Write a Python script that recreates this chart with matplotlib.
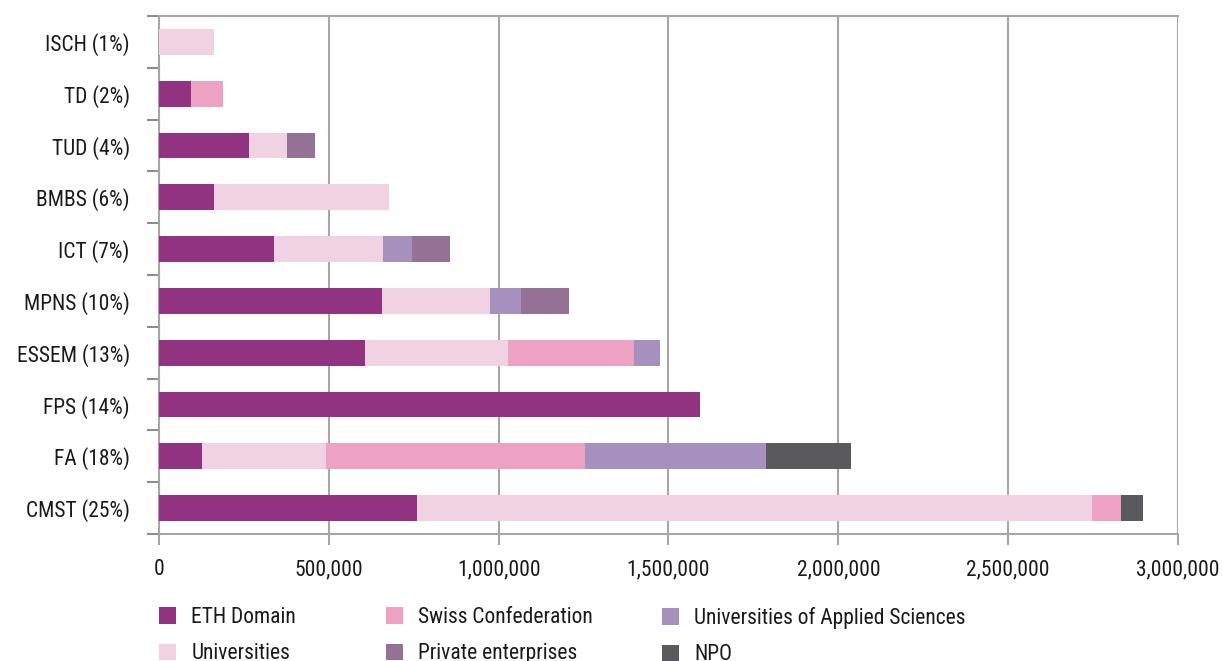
import matplotlib
matplotlib.use("Agg")
import matplotlib.pyplot as plt
from matplotlib.ticker import FuncFormatter, MultipleLocator
from matplotlib import font_manager
import numpy as np

# pick a condensed face if one is installed
available = {f.name for f in font_manager.fontManager.ttflist}
preferred = ["Roboto Condensed", "Archivo Narrow", "PT Sans Narrow", "Liberation Sans Narrow",
             "Open Sans Condensed", "IBM Plex Sans Condensed", "Encode Sans Condensed",
             "Fira Sans Condensed", "Asap Condensed", "DejaVu Sans"]
font_name = next(n for n in preferred if n in available)
plt.rcParams['font.family'] = [font_name, 'DejaVu Sans']

categories = ["CMST (25%)", "FA (18%)", "FPS (14%)", "ESSEM (13%)", "MPNS (10%)",
              "ICT (7%)", "BMBS (6%)", "TUD (4%)", "TD (2%)", "ISCH (1%)"]

eth_domain = [760000, 127000, 1593000, 607000, 657000, 339000, 162000, 265000, 94000, 0]
universities = [1987000, 365000, 0, 421000, 318000, 321000, 515000, 112000, 0, 162000]
swiss_confed = [86000, 762000, 0, 371000, 0, 0, 0, 0, 94000, 0]
uas = [0, 533000, 0, 77000, 91000, 85000, 0, 0, 0, 0]
private = [0, 0, 0, 0, 141000, 112000, 0, 82000, 0, 0]
npo = [65000, 250000, 0, 0, 0, 0, 0, 0, 0, 0]

series = [
    ("ETH Domain", eth_domain, "#913381"),
    ("Universities", universities, "#f0d2e2"),
    ("Swiss Confederation", swiss_confed, "#eda2c4"),
    ("Universities of Applied Sciences", uas, "#a690be"),
    ("Private enterprises", private, "#957196"),
    ("NPO", npo, "#5a5a5c"),
]

FS = 15.5
TXT = "#1a1a1a"

fig = plt.figure(figsize=(12.22, 6.61), dpi=100)
ax = fig.add_axes([0.1301, 0.1921, 0.8339, 0.7837])

y = np.arange(len(categories))
left = np.zeros(len(categories))
handles = {}
for name, vals, col in series:
    vals = np.array(vals, dtype=float)
    b = ax.barh(y, vals, left=left, height=0.5, color=col, label=name, zorder=3)
    handles[name] = b
    left += vals

ax.set_xlim(0, 3000000)
ax.set_ylim(-0.5, len(categories) - 0.5)
ax.xaxis.set_major_locator(MultipleLocator(500000))
ax.xaxis.set_major_formatter(FuncFormatter(lambda v, p: f"{int(v):,}"))
ax.grid(axis="x", color="#a6a6a6", linewidth=1.5, zorder=0)

ax.set_yticks(y)
ax.set_yticklabels(categories)
ax.set_yticks(np.arange(-0.5, len(categories)), minor=True)
ax.tick_params(axis="y", which="major", length=0, pad=21, labelsize=FS, labelcolor=TXT)
ax.tick_params(axis="y", which="minor", length=9, width=1.5, color="#8c8c8c")
ax.tick_params(axis="x", which="major", length=8, width=1.5, color="#a6a6a6",
               labelsize=FS, pad=10, labelcolor=TXT)

for s in ["top", "left", "bottom", "right"]:
    ax.spines[s].set_color("#a6a6a6")
    ax.spines[s].set_linewidth(1.5)
ax.spines["right"].set_visible(False)

# legend: three columns, two rows, placed like the original
columns = [("ETH Domain", "Universities"),
           ("Swiss Confederation", "Private enterprises"),
           ("Universities of Applied Sciences", "NPO")]
col_x = [0.1301, 0.3159, 0.5417]
for cx, names in zip(col_x, columns):
    leg = fig.legend([handles[n] for n in names], names, loc="upper left",
                     bbox_to_anchor=(cx, 0.0817), frameon=False,
                     fontsize=FS, handlelength=0.8, handleheight=0.8,
                     handletextpad=0.7, labelspacing=0.72,
                     borderaxespad=0, borderpad=0)
    for t in leg.get_texts():
        t.set_color(TXT)

fig.savefig("out.png", dpi=100)
